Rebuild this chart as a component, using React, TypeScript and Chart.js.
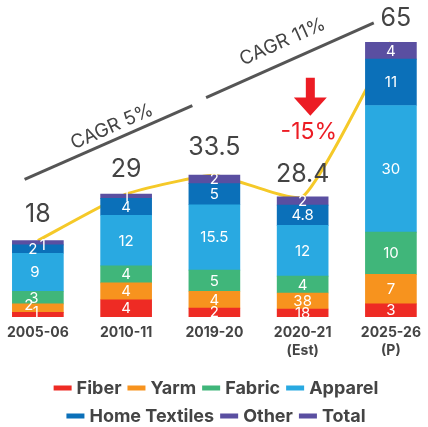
import React, { useEffect, useRef } from 'react';
import { Chart, registerables } from 'chart.js';

Chart.register(...registerables);

const FONT = 'Inter, "Noto Sans", sans-serif';

// ---- data ----
const categories = ['2005-06', '2010-11', '2019-20', '2020-21', '2025-26'];
const subCategories = ['', '', '', '(Est)', '(P)'];

const fiber = [1, 4, 2, 1.8, 3];
const yarm = [2, 4, 4, 3.8, 7];
const fabric = [3, 4, 5, 4, 10];
const apparel = [9, 12, 15.5, 12, 30];
const homeTextiles = [2, 4, 5, 4.8, 11];
const other = [1, 1, 2, 2, 4];
const totals = [18, 29, 33.5, 28.4, 65];

const seriesNames = ['Fiber', 'Yarm', 'Fabric', 'Apparel', 'Home Textiles', 'Other'];
const seriesValues = [fiber, yarm, fabric, apparel, homeTextiles, other];
const seriesColors = ['#ee2b24', '#f7931e', '#40b67a', '#29a9e1', '#0b70b9', '#5a4fa1'];
const totalLineColor = '#f5c928';
const totalLegendColor = '#5a4fa1';

// label texts as printed on the reference
const labelOverrides: Record<string, string> = { 'Fiber|3': '18', 'Yarm|3': '38' };
// small nudges for crowded labels in the first bar
const labelNudges: Record<string, [number, number]> = {
  'Other|0': [5, 2],
  'Home Textiles|0': [-5, 0],
  'Apparel|0': [-3, 0],
  'Fabric|0': [-4, 0],
  'Yarm|0': [-9, -3],
  'Fiber|0': [-2, -3],
};

const totalLabelLift = [26, 25, 28, 22, 24];
const totalLabelShift = [0, 0, 0, 0, 5];

// annotations in (category index, value) coordinates
const cagrSegments = [
  { label: 'CAGR 5%', from: [-0.15, 32.5], to: [1.75, 50.0], text: [0.84, 45.0] },
  { label: 'CAGR 11%', from: [1.906, 51.9], to: [3.806, 69.6], text: [2.772, 65.1] },
];
const dropArrow = { x: 3.087, shaftTop: 56.6, headBase: 51.9, tip: 47.6 };
const dropLabel = { text: '-15%', x: 3.07, y: 43.8 };

const annotationPlugin = {
  id: 'annotations',
  afterDatasetsDraw(chart: any) {
    const ctx = chart.ctx;
    ctx.save();
    ctx.fillStyle = '#ffffff';
    ctx.font = `400 15px ${FONT}`;
    ctx.textAlign = 'center';
    ctx.textBaseline = 'middle';
    chart.data.datasets.forEach((ds: any, di: number) => {
      if (ds.type === 'line') return;
      const meta = chart.getDatasetMeta(di);
      meta.data.forEach((el: any, i: number) => {
        const p = el.getProps(['x', 'y', 'base'], true);
        const key = `${ds.label}|${i}`;
        const txt = labelOverrides[key] ?? String(ds.data[i]);
        const nudge = labelNudges[key] ?? [0, 0];
        ctx.fillText(txt, p.x + nudge[0], (p.y + p.base) / 2 + nudge[1] + 0.5);
      });
    });
    ctx.restore();
  },
  afterDraw(chart: any) {
    const ctx = chart.ctx;
    const xs = chart.scales.x;
    const ys = chart.scales.y;
    const px = (i: number) => xs.getPixelForValue(i);
    const py = (v: number) => ys.getPixelForValue(v);
    ctx.save();

    // totals
    ctx.fillStyle = '#444444';
    ctx.font = `400 25px ${FONT}`;
    ctx.textAlign = 'center';
    ctx.textBaseline = 'middle';
    totals.forEach((t, i) => {
      ctx.fillText(String(t), px(i) + totalLabelShift[i], py(t) - totalLabelLift[i]);
    });

    // CAGR lines
    cagrSegments.forEach((s) => {
      const x1 = px(s.from[0]), y1 = py(s.from[1]);
      const x2 = px(s.to[0]), y2 = py(s.to[1]);
      ctx.strokeStyle = '#555555';
      ctx.lineWidth = 3;
      ctx.beginPath();
      ctx.moveTo(x1, y1);
      ctx.lineTo(x2, y2);
      ctx.stroke();
      const ang = Math.atan2(y2 - y1, x2 - x1);
      ctx.save();
      ctx.translate(px(s.text[0]), py(s.text[1]));
      ctx.rotate(ang);
      ctx.fillStyle = '#444444';
      ctx.font = `400 19px ${FONT}`;
      ctx.textAlign = 'center';
      ctx.textBaseline = 'middle';
      ctx.fillText(s.label, 0, 0);
      ctx.restore();
    });

    // red arrow
    const ax = px(dropArrow.x);
    ctx.fillStyle = '#ec1c24';
    ctx.beginPath();
    ctx.moveTo(ax - 4.5, py(dropArrow.shaftTop));
    ctx.lineTo(ax + 4.5, py(dropArrow.shaftTop));
    ctx.lineTo(ax + 4.5, py(dropArrow.headBase));
    ctx.lineTo(ax + 16.5, py(dropArrow.headBase));
    ctx.lineTo(ax, py(dropArrow.tip));
    ctx.lineTo(ax - 16.5, py(dropArrow.headBase));
    ctx.lineTo(ax - 4.5, py(dropArrow.headBase));
    ctx.closePath();
    ctx.fill();

    ctx.font = `400 23px ${FONT}`;
    ctx.textAlign = 'center';
    ctx.textBaseline = 'middle';
    ctx.fillText(dropLabel.text, px(dropLabel.x), py(dropLabel.y));

    // legend
    const items = seriesNames.map((n, i) => ({ text: n, color: seriesColors[i] }));
    items.push({ text: 'Total', color: totalLegendColor });
    const rows = [items.slice(0, 4), items.slice(4)];
    const rowY = [388, 416];
    const boxW = 18, boxH = 5, boxGap = 5, itemGap = 6;
    ctx.font = `700 18px ${FONT}`;
    ctx.textAlign = 'left';
    ctx.textBaseline = 'middle';
    rows.forEach((row, r) => {
      const widths = row.map((it) => boxW + boxGap + ctx.measureText(it.text).width);
      const total = widths.reduce((a, b) => a + b, 0) + itemGap * (row.length - 1);
      let x = chart.width / 2 + 2 - total / 2;
      row.forEach((it, k) => {
        ctx.fillStyle = it.color;
        ctx.fillRect(x, rowY[r] - boxH / 2, boxW, boxH);
        ctx.fillStyle = '#444444';
        ctx.fillText(it.text, x + boxW + boxGap, rowY[r] + 1);
        x += widths[k] + itemGap;
      });
    });

    ctx.restore();
  },
};

export default function App() {
  const ref = useRef<HTMLCanvasElement | null>(null);

  useEffect(() => {
    if (!ref.current) return;
    const labels = categories.map((c, i) => (subCategories[i] ? [c, subCategories[i]] : c));
    const barSets = seriesNames.map((name, i) => ({
      type: 'bar' as const,
      label: name,
      data: seriesValues[i],
      backgroundColor: seriesColors[i],
      borderWidth: 0,
      barThickness: 51,
      clip: false as any,
      order: 0,
    }));
    const chart = new Chart(ref.current, {
      type: 'bar',
      data: {
        labels,
        datasets: [
          ...barSets,
          {
            type: 'line' as const,
            label: 'Total',
            data: totals,
            borderColor: totalLineColor,
            backgroundColor: totalLegendColor,
            borderWidth: 3,
            pointRadius: 0,
            tension: 0.15,
            clip: false as any,
            order: 5,
          },
        ] as any,
      },
      options: {
        responsive: false,
        animation: false,
        layout: { padding: { left: 37.5, right: 30.5, top: 0, bottom: 60 } },
        plugins: { legend: { display: false }, tooltip: { enabled: false } },
        scales: {
          x: {
            stacked: true,
            offset: false,
            grid: { display: false, drawTicks: false },
            border: { display: false },
            ticks: {
              color: '#444444',
              font: { family: FONT, size: 14, weight: 'bold', lineHeight: 1.3 },
              padding: 7,
              maxRotation: 0,
              autoSkip: false,
            },
          },
          y: { stacked: true, display: false, min: 0, max: 75 },
        },
      },
      plugins: [annotationPlugin],
    });
    return () => chart.destroy();
  }, []);

  return (
    <div style={{ position: 'absolute', left: 0, top: 0, width: 428, height: 427 }}>
      <canvas ref={ref} width={428} height={427} />
    </div>
  );
}
